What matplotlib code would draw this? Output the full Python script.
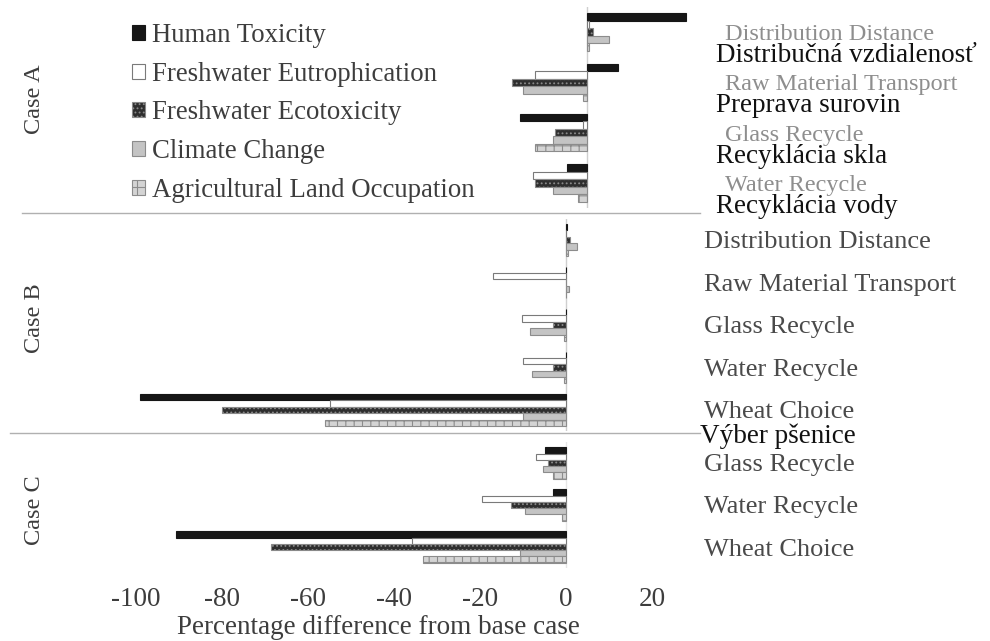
import matplotlib
matplotlib.use("Agg")
import matplotlib.pyplot as plt
from matplotlib.patches import Patch
from matplotlib.lines import Line2D
import numpy as np

plt.rcParams['font.family'] = ['Liberation Serif', 'DejaVu Serif']
plt.rcParams['hatch.linewidth'] = 0.8

# ---- data: percentage difference from the base case ----
series = ["Human Toxicity", "Freshwater Eutrophication", "Freshwater Ecotoxicity",
          "Climate Change", "Agricultural Land Occupation"]

cats_a = ["Distribution Distance", "Raw Material Transport", "Glass Recycle", "Water Recycle"]
sk_a = ["Distribučná vzdialenosť", "Preprava surovin", "Recyklácia skla", "Recyklácia vody"]
case_a = {
    "Human Toxicity":               [23.0, 7.2, -15.5, -4.6],
    "Freshwater Eutrophication":    [0.5, -12.0, -1.0, -12.5],
    "Freshwater Ecotoxicity":       [1.5, -17.4, -7.4, -12.0],
    "Climate Change":               [5.0, -15.0, -8.0, -8.0],
    "Agricultural Land Occupation": [0.5, -1.0, -12.0, -2.0],
}

cats_b = ["Distribution Distance", "Raw Material Transport", "Glass Recycle",
          "Water Recycle", "Wheat Choice"]
sk_b_last = "Výber pšenice"
case_b = {
    "Human Toxicity":               [0.3, 0.0, 0.0, 0.0, -99.0],
    "Freshwater Eutrophication":    [0.0, -17.0, -10.2, -10.0, -55.0],
    "Freshwater Ecotoxicity":       [1.0, 0.0, -3.0, -3.0, -80.0],
    "Climate Change":               [2.5, 0.7, -8.4, -8.0, -10.0],
    "Agricultural Land Occupation": [0.5, 0.0, -0.5, -0.5, -56.0],
}

cats_c = ["Glass Recycle", "Water Recycle", "Wheat Choice"]
case_c = {
    "Human Toxicity":               [-4.9, -3.0, -90.7],
    "Freshwater Eutrophication":    [-7.0, -19.5, -35.8],
    "Freshwater Ecotoxicity":       [-4.2, -12.8, -68.6],
    "Climate Change":               [-5.3, -9.5, -10.7],
    "Agricultural Land Occupation": [-3.0, -1.0, -33.3],
}

x_ticks = [-100, -80, -60, -40, -20, 0, 20]

# ---- bar styles ----
styles = {
    "Human Toxicity":               dict(facecolor="#161616", edgecolor="#161616", hatch=None),
    "Freshwater Eutrophication":    dict(facecolor="white", edgecolor="#7a7a7a", hatch=None),
    "Freshwater Ecotoxicity":       dict(facecolor="#2e2e2e", edgecolor="#8a8a8a", hatch="...."),
    "Climate Change":               dict(facecolor="#c4c4c4", edgecolor="#8c8c8c", hatch=None),
    "Agricultural Land Occupation": dict(facecolor="#d4d4d4", edgecolor="#8c8c8c", hatch="++"),
}

W, H = 990, 641
fig = plt.figure(figsize=(W / 100, H / 100), dpi=100)


def fx(px):
    return px / W


def fy(py):
    return 1 - py / H


def add_axes(top, bottom):
    return fig.add_axes([fx(100), fy(bottom), fx(600), (bottom - top) / H])


BAR_H = 0.15
TXT = "#3d3d3d"
SK_FS = 19.5


def draw_case(ax, cats, data, zero_px, label_color, label_pad, label_fs, zero_color):
    ypos = np.arange(len(cats))
    for i, s in enumerate(series):
        st = styles[s]
        ax.barh(ypos + (i - 2) * BAR_H, data[s], height=BAR_H,
                facecolor=st["facecolor"], edgecolor=st["edgecolor"],
                hatch=st["hatch"], linewidth=0.8, zorder=3)
    ax.set_ylim(len(cats) - 0.5, -0.5)
    # place the zero of this panel at the requested pixel column
    ppu = 4.3
    ax.set_xlim((100 - zero_px) / ppu, (700 - zero_px) / ppu)
    ax.axvline(0, color=zero_color, lw=1.0, zorder=1)
    ax.yaxis.tick_right()
    ax.set_yticks(ypos)
    ax.set_yticklabels(cats, fontsize=label_fs, color=label_color)
    ax.tick_params(axis="y", length=0, pad=label_pad)
    ax.tick_params(axis="x", length=0)
    for sp in ax.spines.values():
        sp.set_visible(False)
    ax.set_xticks([])
    return ypos


ax_a = add_axes(7, 208)
draw_case(ax_a, cats_a, case_a, 587, "#8e8e8e", 18, 17.5, "#cfcfcf")
for i, t in enumerate(sk_a):
    ax_a.text((716 - 100) / 600, i + 0.47, t, transform=ax_a.get_yaxis_transform(),
              fontsize=SK_FS, color="#111111", va="center", ha="left", clip_on=False)

ax_b = add_axes(218.75, 431.25)
draw_case(ax_b, cats_b, case_b, 566, "#4a4a4a", 3, 19, "#cfcfcf")
ax_b.text((700 - 100) / 600, len(cats_b) - 1 + 0.61, sk_b_last,
          transform=ax_b.get_yaxis_transform(), fontsize=SK_FS, color="#111111",
          va="center", ha="left", clip_on=False)

ax_c = add_axes(442, 568)
draw_case(ax_c, cats_c, case_c, 566, "#4a4a4a", 3, 19, "#e6e6e6")
ax_c.set_xticks(x_ticks)
ax_c.set_xticklabels([str(v) for v in x_ticks], fontsize=19.5, color=TXT)
ax_c.tick_params(axis="x", length=0, pad=14)
ax_c.set_xlabel("Percentage difference from base case", fontsize=19.5, color=TXT,
                va="center")
ax_c.xaxis.set_label_coords((378 - 100) / 600, -(627 - 568) / 126)

# separators between the cases
fig.add_artist(Line2D([fx(22), fx(700)], [fy(213), fy(213)], color="#b0b0b0", lw=1.0))
fig.add_artist(Line2D([fx(10), fx(700)], [fy(433), fy(433)], color="#b0b0b0", lw=1.0))

# case labels
for txt, yc in [("Case A", 99), ("Case B", 318), ("Case C", 510)]:
    fig.text(fx(35), fy(yc), txt, rotation=90, fontsize=17.5, color=TXT,
             ha="center", va="center")

# legend
handles = [Patch(facecolor=styles[s]["facecolor"], edgecolor=styles[s]["edgecolor"],
                 hatch=styles[s]["hatch"], linewidth=0.8) for s in series]
fig.legend(handles, series, loc="upper left", bbox_to_anchor=(fx(132), fy(23)),
           frameon=False, fontsize=19.3, labelcolor=TXT, handlelength=0.5,
           handleheight=0.5, handletextpad=0.25, labelspacing=0.51, borderpad=0,
           borderaxespad=0)

fig.savefig("out.png", dpi=100)
